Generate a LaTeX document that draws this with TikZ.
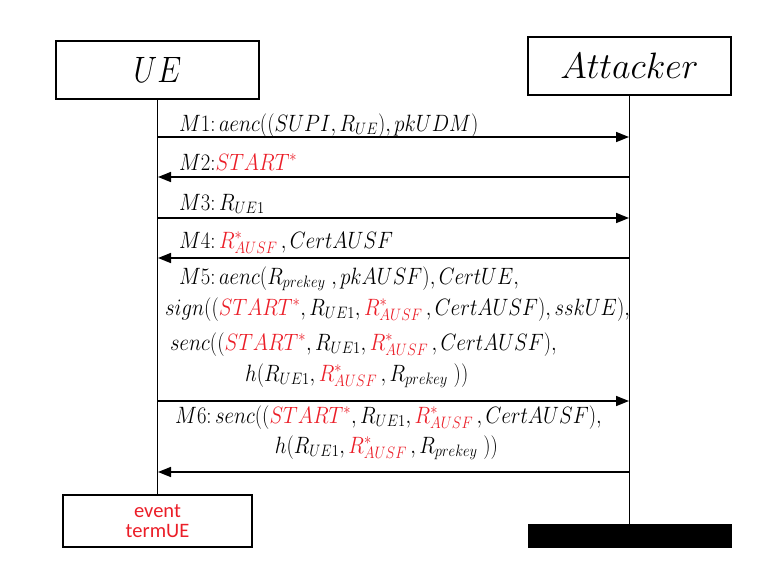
\documentclass[tikz,border=0pt]{standalone}
\usepackage{fix-cm}
\usepackage{fontspec}
\newfontfamily\evfont{Carlito}
\usetikzlibrary{arrows.meta}
\definecolor{mred}{RGB}{235,30,40}
\newcommand{\rd}[1]{{\color{mred}#1}}
\newcommand{\mt}[1]{\scalebox{0.92}[1.05]{$#1$}}
\tikzset{
  actorbox/.style={draw, line width=1.6pt, minimum width=203pt, minimum height=58pt, inner sep=0pt, font=\fontsize{36}{40}\selectfont},
  lifeline/.style={line width=1.6pt},
  msg/.style={line width=1.6pt, -{Triangle[length=13pt,width=10pt]}},
  lbl/.style={inner sep=0pt, font=\fontsize{22.5}{27}\selectfont},
}
\begin{document}
\begin{tikzpicture}[x=1pt,y=-1pt]
\useasboundingbox (0,0) rectangle (766,566);
% actors
\node[actorbox] (ue) at (157.5,70) {\raisebox{-4pt}{\scalebox{0.85}[1.02]{$UE$}}};
\node[actorbox] (att) at (629.5,66) {\scalebox{1}[1.02]{$Attacker$}};
\node[draw, line width=1.6pt, minimum width=189pt, minimum height=52pt, inner sep=0pt,
      align=center, text=mred, font=\evfont\fontsize{20.5}{20}\selectfont] (ev) at (157.5,521) {event\\termUE};
\node[fill=black, minimum width=204pt, minimum height=24pt, inner sep=0pt] (blk) at (630,536) {};
% lifelines
\draw[lifeline] (ue.south) -- (ue.south |- ev.north);
\draw[lifeline] (att.south) -- (att.south |- blk.north);
% endpoints
\foreach \n/\y in {1/137,2/177,3/218,4/258,5/401,6/472}{
  \coordinate (u\n) at (158,\y);
  \coordinate (a\n) at (629,\y);
}
% messages
\draw[msg] (u1) -- (a1);
\draw[msg] (a2) -- (u2);
\draw[msg] (u3) -- (a3);
\draw[msg] (a4) -- (u4);
\draw[msg] (u5) -- (a5);
\draw[msg] (a6) -- (u6);
% labels
\node[lbl, anchor=base west] (l1) at (179,131) {\mt{M1{:}\,aenc((SUPI,R_{UE}),pkUDM)}};
\node[lbl, anchor=base west] (l2) at (179,170) {\mt{M2{:}\rd{START^*}}};
\node[lbl, anchor=base west] (l3) at (179,210) {\mt{M3{:}\,R_{UE1}}};
\node[lbl, anchor=base west] (l4) at (179,248) {\mt{M4{:}\,\rd{R^*_{AUSF}}\,,CertAUSF}};
\node[lbl, anchor=base west] (l5a) at (179,284) {\mt{M5{:}\,aenc\bigl(R_{prekey}\;,pkAUSF\bigr),CertUE,}};
\node[lbl, anchor=base west] (l5b) at (165,315) {\mt{sign\bigl((\rd{START^*},R_{UE1},\rd{R^*_{AUSF}}\,,CertAUSF),sskUE\bigr),}};
\node[lbl, anchor=base west] (l5c) at (170,350) {\mt{senc((\rd{START^*},R_{UE1},\rd{R^*_{AUSF}}\,,CertAUSF),}};
\node[lbl, anchor=base west] (l5d) at (245,381) {\mt{h(R_{UE1},\rd{R^*_{AUSF}}\,,R_{prekey}\;))}};
\node[lbl, anchor=base] (l6a) at (388.5,423) {\mt{M6{:}\,senc((\rd{START^*},R_{UE1},\rd{R^*_{AUSF}}\,,CertAUSF),}};
\node[lbl, anchor=base] (l6b) at (386.5,453) {\mt{h(R_{UE1},\rd{R^*_{AUSF}}\,,R_{prekey}\;))}};
\end{tikzpicture}
\end{document}
